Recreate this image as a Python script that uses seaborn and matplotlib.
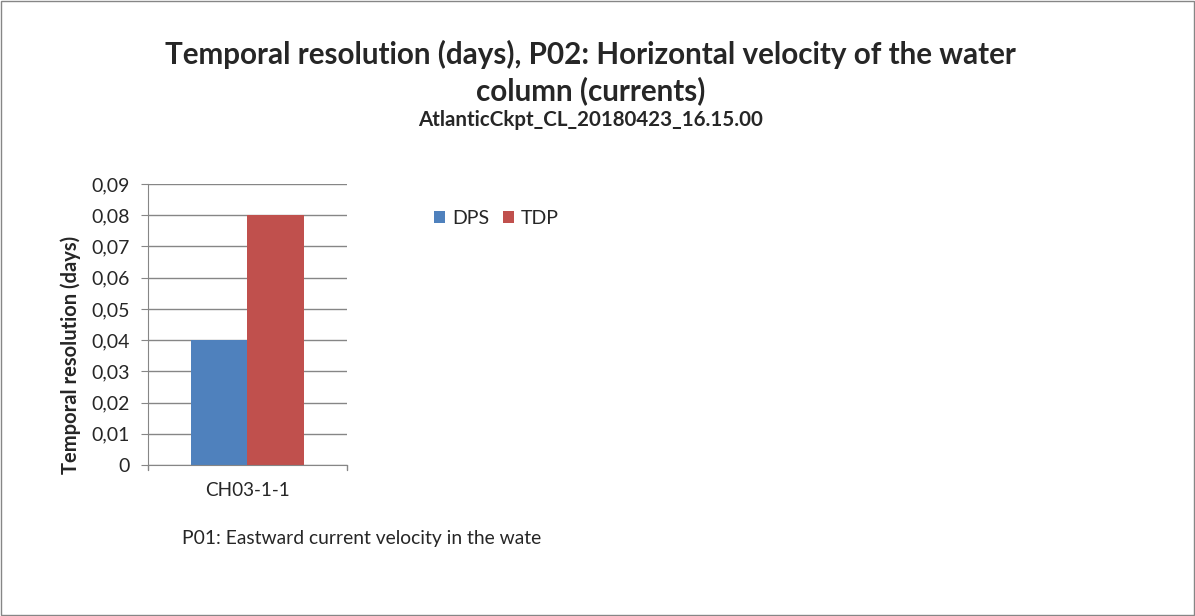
import pandas as pd
import matplotlib
matplotlib.use("Agg")
import matplotlib.pyplot as plt
import seaborn as sns
from matplotlib.ticker import FuncFormatter, MultipleLocator

# data
categories = ["CH03-1-1"]
series = ["DPS", "TDP"]
dps_values = [0.04]
tdp_values = [0.08]
colors = ["#4F81BD", "#C0504D"]

df = pd.DataFrame({
    "category": categories * 2,
    "series": ["DPS"] * len(categories) + ["TDP"] * len(categories),
    "value": dps_values + tdp_values,
})

sns.set_style("white")
plt.rcParams["font.family"] = ["Lato", "DejaVu Sans"]

fig = plt.figure(figsize=(11.95, 6.16), dpi=100)
ax = fig.add_axes([0.1238, 0.2451, 0.1665, 0.4562])

sns.barplot(data=df, x="category", y="value", hue="series", palette=colors,
            width=0.57, saturation=1, linewidth=0, ax=ax, legend=True)

ax.set_ylim(0, 0.09)
ax.set_xlim(-0.5, 0.5)
ax.yaxis.set_major_locator(MultipleLocator(0.01))
ax.yaxis.set_major_formatter(FuncFormatter(lambda v, p: "0" if abs(v) < 1e-9 else f"{v:.2f}".replace(".", ",")))
ax.grid(axis="y", color="#868686", linewidth=1)
ax.set_axisbelow(True)
for s in ["top", "right"]:
    ax.spines[s].set_visible(False)
ax.spines["left"].set_color("#868686")
ax.spines["bottom"].set_color("#868686")
ax.tick_params(axis="y", left=True, length=5, color="#868686", labelsize=14, pad=8)
ax.tick_params(axis="x", bottom=False, labelsize=13.6, pad=9)
for xe in (-0.5, 0.5):
    ax.plot([xe, xe], [0, -0.0015], color="#868686", lw=1, clip_on=False)
ax.set_xlabel("")
ax.set_ylabel("Temporal resolution (days)", fontsize=14.5, fontweight="bold")
ax.yaxis.set_label_coords(-0.335, 0.39)

handles, labels = ax.get_legend_handles_labels()
ax.legend(handles, labels, loc="upper left", bbox_to_anchor=(1.4, 0.935), ncol=2,
          frameon=False, fontsize=14, handlelength=0.55, handleheight=0.55,
          handletextpad=0.35, columnspacing=0.75, borderaxespad=0)

fig.text(0.494, 0.911, "Temporal resolution (days), P02: Horizontal velocity of the water",
         ha="center", va="center", fontsize=21.3, fontweight="bold")
fig.text(0.494, 0.853, "column (currents)", ha="center", va="center", fontsize=21.3, fontweight="bold")
fig.text(0.494, 0.805, "AtlanticCkpt_CL_20180423_16.15.00", ha="center", va="center",
         fontsize=14.8, fontweight="bold")
fig.text(0.152, 0.126, "P01: Eastward current velocity in the wate", ha="left", va="center", fontsize=13.9)

fig.patches.append(plt.Rectangle((0.0008, 0.0016), 0.9984, 0.9968, transform=fig.transFigure,
                                 fill=False, edgecolor="#868686", linewidth=1))

fig.savefig("out.png", dpi=100)
